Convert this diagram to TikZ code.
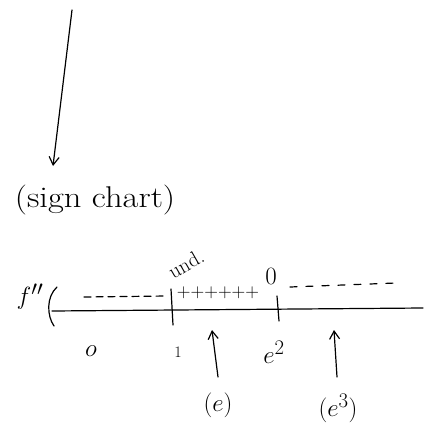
\documentclass[tikz,border=0pt]{standalone}
\usetikzlibrary{arrows.meta}
\begin{document}
\begin{tikzpicture}[x=1pt,y=-1pt,
  ink/.style={line width=1.2pt,line cap=round,black},
  txt/.style={inner sep=0pt,font=\fontsize{#1}{#1}\selectfont},
  arr/.style={ink,-{Straight Barb[length=8pt,width=10pt]}}]
\useasboundingbox (0,0) rectangle (425,444);
% top arrow
\coordinate (t0) at (72,10);
\coordinate (t1) at (53,166);
\draw[arr] (t0) -- (t1);
\node[txt=30,xscale=1.15] (title) at (95,200) {(sign chart)};
% f''
\node[txt=32] (f) at (30,297) {$f''$};
% axis
\coordinate (a0) at (52,311);
\coordinate (a1) at (423,308);
\draw[ink] (a0) -- (a1);
\draw[ink] (57,287) .. controls (46,297) and (47,316) .. (54,326);
% ticks
\coordinate (k1a) at (171,289);
\coordinate (k1b) at (173,325);
\draw[ink] (k1a) -- (k1b);
\coordinate (k2a) at (277,296);
\coordinate (k2b) at (279,321);
\draw[ink] (k2a) -- (k2b);
% signs
\draw[ink,dash pattern=on 7pt off 5pt] (84,297) -- (167,296);
\draw[ink,dash pattern=on 7pt off 9pt] (290,287) -- (396,283);
\node[txt=19] (plus) at (218,293) {++++++};
\node[txt=21,rotate=30] (und) at (186,264) {und.};
\node[txt=30] (zero) at (271,276) {$0$};
% labels under axis
\node[txt=28] (l0) at (91,351) {$o$};
\node[txt=16] (l1) at (178,352) {1};
\node[txt=30] (le2) at (274,352) {$e^2$};
\node[txt=32] (le) at (218,405) {$(e)$};
\node[txt=32] (le3) at (338,408) {$(e^3)$};
% arrows up
\coordinate (b1) at (218,377);
\coordinate (b2) at (337,377);
\draw[arr] (b1) -- (212,330);
\draw[arr] (b2) -- (334,330);
\end{tikzpicture}
\end{document}
